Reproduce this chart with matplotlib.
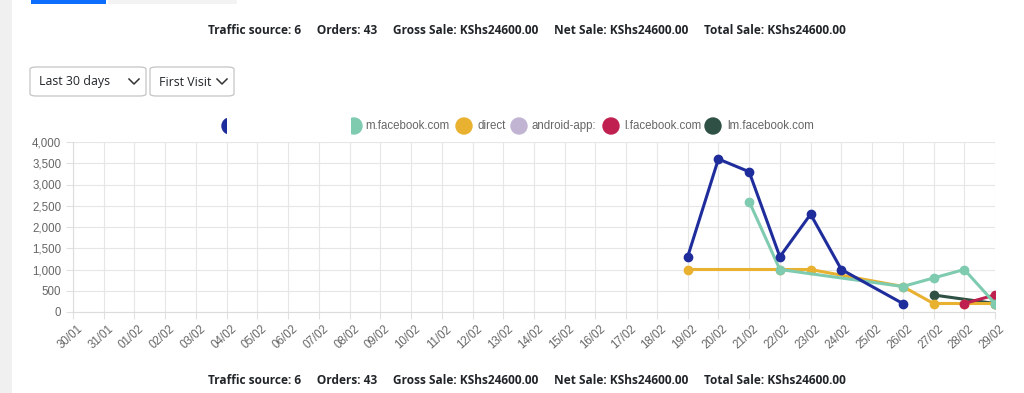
import numpy as np
import matplotlib
matplotlib.use("Agg")
import matplotlib.pyplot as plt
import matplotlib.transforms as mtransforms
from matplotlib.patches import Rectangle, FancyBboxPatch, Ellipse

# ---- data ----
dates = ['30/01', '31/01'] + ['%02d/02' % d for d in range(1, 30)]
sources = ['', 'm.facebook.com', 'direct', 'android-app:', 'l.facebook.com', 'lm.facebook.com']
colors = ['#1f2d9c', '#7ecbb0', '#e9b130', '#c0b4d2', '#c0204f', '#2e5045']

# values by date (None = no value for that day)
def series(pairs):
    out = [None] * len(dates)
    for d, v in pairs.items():
        out[dates.index(d)] = v
    return out

blue_vals = series({'19/02': 1300, '20/02': 3600, '21/02': 3300, '22/02': 1300,
                    '23/02': 2300, '24/02': 1000, '26/02': 200})
teal_vals = series({'21/02': 2600, '22/02': 1000, '26/02': 600, '27/02': 800,
                    '28/02': 1000, '29/02': 200})
direct_vals = series({'19/02': 1000, '22/02': 1000, '23/02': 1000, '26/02': 600,
                      '27/02': 200, '28/02': 200, '29/02': 200})
android_vals = series({})
lfb_vals = series({'28/02': 200, '29/02': 400})
lmfb_vals = series({'27/02': 400, '29/02': 200})
all_vals = [blue_vals, teal_vals, direct_vals, android_vals, lfb_vals, lmfb_vals]

summary = ('Traffic source: 6     Orders: 43     Gross Sale: KShs24600.00     '
           'Net Sale: KShs24600.00     Total Sale: KShs24600.00')

W, H = 1024, 393
fig = plt.figure(figsize=(W / 100, H / 100), dpi=100)

def fx(x):
    return x / W

def fy(y):
    return 1 - y / H

# page chrome
fig.patches.append(Rectangle((0, 0), fx(12), 1, transform=fig.transFigure,
                             color='#f0f0f0', lw=0))
fig.patches.append(Rectangle((fx(31), fy(4)), fx(75), 4 / H, transform=fig.transFigure,
                             color='#0d6efd', lw=0))
fig.patches.append(Rectangle((fx(108), fy(4)), fx(129), 4 / H, transform=fig.transFigure,
                             color='#f3f3f3', lw=0))

for yy in (31, 380):
    fig.text(fx(527), fy(yy), summary, ha='center', va='center', fontsize=8.6,
             fontweight='bold', family='Open Sans', color='#212529')

# dropdowns
for x0, w, label, chev in [(30, 116, 'Last 30 days', 134), (150, 84, 'First Visit', 222)]:
    fig.patches.append(FancyBboxPatch((fx(x0), fy(96)), fx(w), 29 / H,
                                      boxstyle='round,pad=0,rounding_size=0.006',
                                      transform=fig.transFigure, fc='white',
                                      ec='#c4c4c4', lw=0.9))
    fig.text(fx(x0 + 9), fy(82), label, ha='left', va='center', fontsize=8.9,
             family='Open Sans', color='#212529')
    fig.lines.append(plt.Line2D([fx(chev - 5), fx(chev), fx(chev + 5)],
                                [fy(79), fy(84), fy(79)], transform=fig.transFigure,
                                color='#333333', lw=1.1))

# legend
def dot(cx, col, clip_x=None, keep_left=False):
    e = Ellipse((fx(cx), fy(126)), 16 / W, 16 / H, transform=fig.transFigure, color=col)
    fig.patches.append(e)
    if clip_x is not None:
        if keep_left:
            r = Rectangle((0, 0), fx(clip_x), 1, transform=fig.transFigure)
        else:
            r = Rectangle((fx(clip_x), 0), 1, 1, transform=fig.transFigure)
        e.set_clip_path(r)

leg_items = [(354, 365), (464, 477), (519, 532), (611, 624), (713, 727)]
for (cx, tx), name, col in zip(leg_items, sources[1:], colors[1:]):
    fig.text(fx(tx), fy(126), name, ha='left', va='center', fontsize=8.3,
             family='Liberation Sans', color='#666666')
    dot(cx, col, clip_x=351 if name == 'm.facebook.com' else None)
# first (blue) legend item, mostly hidden
dot(230, colors[0], clip_x=227, keep_left=True)

# chart
ax = fig.add_axes([fx(73), fy(312), fx(995) - fx(73), fy(142) - fy(312)])
x = np.arange(len(dates))
zorders = [9, 8, 7, 6, 7.5, 5]
for vals, col, z in zip(all_vals, colors, zorders):
    pts = [(i, v) for i, v in enumerate(vals) if v is not None]
    if not pts:
        continue
    xs, ys = zip(*pts)
    ax.plot(xs, ys, color=col, lw=2.2, marker='o', ms=6, zorder=z)

ax.set_xlim(0, len(dates) - 1)
ax.set_ylim(0, 4000)
ax.set_yticks(np.arange(0, 4001, 500))
ax.set_yticklabels(['{:,}'.format(v) for v in range(0, 4001, 500)])
ax.set_xticks(x)
ax.set_xticklabels(dates, rotation=42, ha='right', rotation_mode='anchor')
ax.grid(True, color='#e6e6e6', lw=0.8)
ax.set_axisbelow(True)
for s in ax.spines.values():
    s.set_visible(False)
ax.spines['left'].set_visible(True)
ax.spines['bottom'].set_visible(True)
ax.spines['left'].set_color('#dcdcdc')
ax.spines['bottom'].set_color('#dcdcdc')
ax.tick_params(axis='both', colors='#e0e0e0', labelcolor='#666666', length=5,
               labelsize=8.3, width=0.8)
ax.tick_params(axis='x', pad=3)
shift = mtransforms.ScaledTranslation(4 / 100, 0, fig.dpi_scale_trans)
for lab in ax.get_xticklabels():
    lab.set_transform(lab.get_transform() + shift)
for lab in ax.get_xticklabels() + ax.get_yticklabels():
    lab.set_family('Liberation Sans')

fig.savefig('out.png', dpi=100)
